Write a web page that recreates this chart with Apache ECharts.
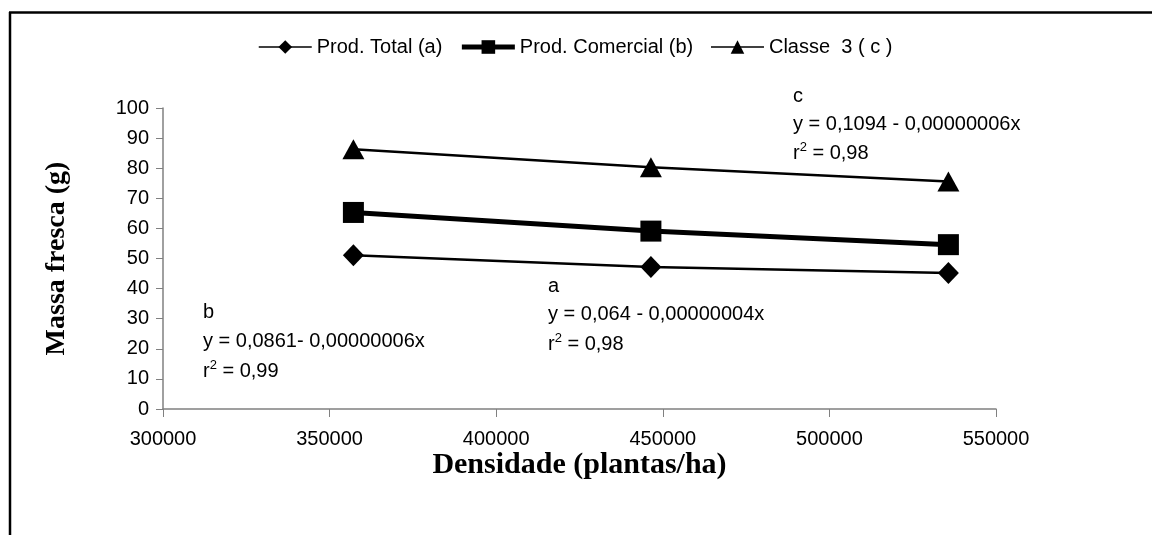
<!DOCTYPE html>
<html>
<head>
<meta charset="utf-8">
<script src="https://cdn.jsdelivr.net/npm/echarts@6/dist/echarts.min.js"></script>
<style>
    html, body { margin: 0; padding: 0; background: #fff; }
    #main { width: 1152px; height: 535px; }
</style>
</head>
<body>
<div id="main"></div>
<script>
// densidade (plantas/ha)
var densidade = [357143, 446429, 535714];
// massa fresca (g)
var prodTotal = [51.1, 47.2, 45.2];
var prodComercial = [65.3, 59.1, 54.6];
var classe3 = [86.3, 80.3, 75.6];

var nomes = ['Prod. Total (a)', 'Prod. Comercial (b)', 'Classe  3 ( c )'];

// texto das equacoes
var eqA = ['a', 'y = 0,064 - 0,00000004x', 'r{s|2} = 0,98'];
var eqB = ['b', 'y = 0,0861- 0,00000006x', 'r{s|2} = 0,99'];
var eqC = ['c', 'y = 0,1094 - 0,00000006x', 'r{s|2} = 0,98'];

function pares(xs, ys) {
    var out = [];
    for (var i = 0; i < xs.length; i++) {
        out.push([xs[i], ys[i]]);
    }
    return out;
}

var fonte = '"Liberation Sans", Arial, sans-serif';

function bloco(linhas, x, ys) {
    var itens = [];
    for (var i = 0; i < linhas.length; i++) {
        itens.push({
            type: 'text',
            left: x,
            top: ys[i] - 16,
            style: {
                text: linhas[i],
                fill: '#000',
                font: '20px ' + fonte,
                rich: {
                    // expoente do r2
                    s: { fontSize: 13, fontFamily: fonte, fill: '#000', padding: [0, 0, 12, 0] }
                }
            }
        });
    }
    return itens;
}

var chart = echarts.init(document.getElementById('main'));

var graficos = [
    // moldura
    {
        type: 'line',
        shape: { x1: 9, y1: 12.5, x2: 1152, y2: 12.5 },
        style: { stroke: '#000', lineWidth: 2.5 }
    },
    {
        type: 'line',
        shape: { x1: 10, y1: 12, x2: 10, y2: 535 },
        style: { stroke: '#000', lineWidth: 2.5 }
    }
];
graficos = graficos.concat(bloco(eqC, 793, [102, 130, 157]));
graficos = graficos.concat(bloco(eqA, 548, [292, 320, 348]));
graficos = graficos.concat(bloco(eqB, 203, [318, 347, 375]));

chart.setOption({
    animation: false,
    backgroundColor: '#fff',
    legend: {
        left: 253,
        top: 32,
        itemWidth: 53,
        itemHeight: 17,
        itemGap: 17,
        textStyle: { fontFamily: fonte, fontSize: 20, color: '#000' },
        data: [
            { name: nomes[0], lineStyle: { width: 1.5 } },
            { name: nomes[1], lineStyle: { width: 5 } },
            { name: nomes[2], lineStyle: { width: 1.5 } }
        ]
    },
    grid: {
        left: 163,
        right: 156,
        top: 108,
        bottom: 126
    },
    xAxis: {
        type: 'value',
        min: 300000,
        max: 550000,
        interval: 50000,
        name: 'Densidade (plantas/ha)',
        nameLocation: 'middle',
        nameGap: 41,
        nameMoveOverlap: false,
        nameTextStyle: {
            fontFamily: '"Liberation Serif", "Times New Roman", serif',
            fontWeight: 'bold',
            fontSize: 30,
            color: '#000'
        },
        axisLine: { lineStyle: { color: '#808080', width: 1.5 } },
        axisTick: { show: true, length: 8, lineStyle: { color: '#808080' } },
        axisLabel: {
            margin: 20,
            fontFamily: fonte,
            fontSize: 20,
            color: '#000',
            formatter: function (v) { return String(v); }
        },
        splitLine: { show: false }
    },
    yAxis: {
        type: 'value',
        min: 0,
        max: 100,
        interval: 10,
        name: 'Massa fresca (g)',
        nameLocation: 'middle',
        nameGap: 92,
        nameTextStyle: {
            fontFamily: '"Liberation Serif", "Times New Roman", serif',
            fontWeight: 'bold',
            fontSize: 28,
            color: '#000'
        },
        axisLine: { show: true, lineStyle: { color: '#808080', width: 1.5 } },
        axisTick: { show: true, length: 7, lineStyle: { color: '#808080' } },
        axisLabel: { margin: 14, fontFamily: fonte, fontSize: 20, color: '#000' },
        splitLine: { show: false }
    },
    series: [
        {
            name: nomes[0],
            type: 'line',
            symbol: 'diamond',
            symbolSize: [21, 22],
            lineStyle: { color: '#000', width: 2.5 },
            itemStyle: { color: '#000' },
            data: pares(densidade, prodTotal)
        },
        {
            name: nomes[1],
            type: 'line',
            symbol: 'rect',
            symbolSize: 21,
            lineStyle: { color: '#000', width: 5 },
            itemStyle: { color: '#000' },
            data: pares(densidade, prodComercial)
        },
        {
            name: nomes[2],
            type: 'line',
            symbol: 'triangle',
            symbolSize: [22, 20],
            lineStyle: { color: '#000', width: 2.5 },
            itemStyle: { color: '#000' },
            data: pares(densidade, classe3)
        }
    ],
    graphic: graficos
});
</script>
</body>
</html>
